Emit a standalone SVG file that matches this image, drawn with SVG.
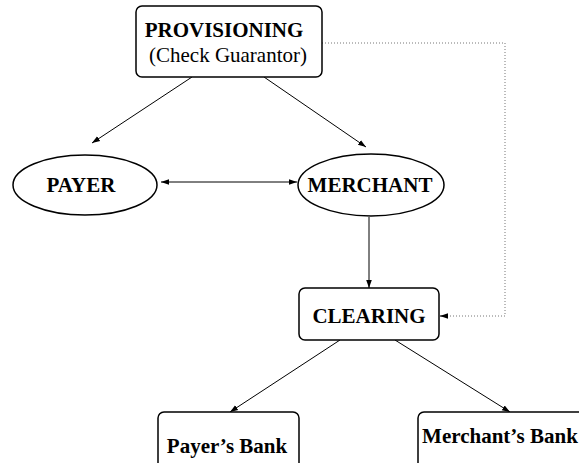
<svg xmlns="http://www.w3.org/2000/svg" width="579" height="463" viewBox="0 0 579 463">
<style>
.box{fill:#fff;stroke:#000;stroke-width:1.5}
.b{font-family:"Liberation Serif","Times New Roman",serif;font-weight:bold;font-size:21px;text-anchor:middle;fill:#000}
.r{font-family:"Liberation Serif","Times New Roman",serif;font-size:21px;text-anchor:middle;fill:#000}
.e{fill:none;stroke:#000;stroke-width:1}
.d{fill:none;stroke:#777;stroke-width:1;stroke-dasharray:1 2}
</style>
<defs>
<marker id="a" viewBox="0 0 10 10" refX="10" refY="5" markerWidth="8" markerHeight="8" markerUnits="userSpaceOnUse" orient="auto-start-reverse">
<path d="M0,1.5 L10,5 L0,8.5 z" fill="#000"/>
</marker>
</defs>
<g id="connectors">
<line class="e" x1="192" y1="77" x2="92" y2="143" marker-end="url(#a)"/>
<line class="e" x1="264" y1="77" x2="366" y2="147" marker-end="url(#a)"/>
<line class="e" x1="161" y1="182" x2="297" y2="182" marker-start="url(#a)" marker-end="url(#a)"/>
<line class="e" x1="369" y1="217" x2="369" y2="288" marker-end="url(#a)"/>
<line class="e" x1="340" y1="340" x2="230" y2="412" marker-end="url(#a)"/>
<line class="e" x1="395" y1="340" x2="510" y2="412" marker-end="url(#a)"/>
<polyline class="d" points="322,43 505,43 505,316 448,316"/>
<line class="e" x1="448" y1="316" x2="440" y2="316" stroke="none" marker-end="url(#a)"/>
</g>
<g id="provisioning">
<rect class="box" x="136" y="6" width="186" height="71" rx="6"/>
<text class="b" x="224" y="37">PROVISIONING</text>
<text class="r" x="228" y="62">(Check Guarantor)</text>
</g>
<g id="payer">
<ellipse class="box" cx="85" cy="185" rx="72" ry="30"/>
<text class="b" x="81" y="192">PAYER</text>
</g>
<g id="merchant">
<ellipse class="box" cx="371" cy="185" rx="73" ry="31"/>
<text class="b" x="370" y="192">MERCHANT</text>
</g>
<g id="clearing">
<rect class="box" x="299" y="288" width="140" height="52" rx="6"/>
<text class="b" x="369" y="323">CLEARING</text>
</g>
<g id="payers-bank">
<rect class="box" x="158" y="412" width="141" height="60" rx="6"/>
<text class="b" x="227" y="453">Payer’s Bank</text>
</g>
<g id="merchants-bank">
<rect class="box" x="418" y="412" width="170" height="60" rx="6"/>
<text class="b" x="500" y="443">Merchant’s Bank</text>
</g>
</svg>
